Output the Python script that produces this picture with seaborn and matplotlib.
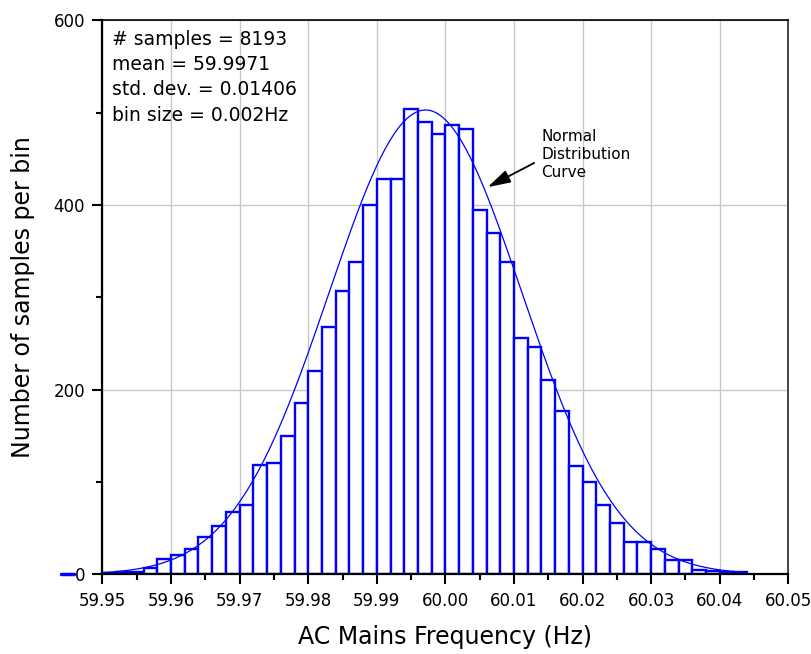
import numpy as np
import matplotlib
matplotlib.use("Agg")
import matplotlib.pyplot as plt
from matplotlib.ticker import MultipleLocator, FormatStrFormatter
import seaborn as sns

# histogram data (bin size 0.002 Hz, first bin starts at 59.95)
bin_start = 59.95
bin_size = 0.002
counts = [1, 2, 2, 7, 17, 21, 27, 40, 52, 67,
          75, 118, 121, 150, 186, 220, 268, 307, 338, 400,
          428, 428, 504, 490, 477, 487, 482, 395, 370, 338,
          256, 246, 211, 177, 117, 100, 75, 56, 35, 35,
          27, 15, 16, 5, 4, 3, 2]

# fitted normal curve parameters
fit_mean = 59.9971
fit_sigma = 0.01406
fit_peak = 503
curve_range = (59.95, 60.044)

stats_text = "# samples = 8193\nmean = 59.9971\nstd. dev. = 0.01406\nbin size = 0.002Hz"
note_text = "Normal\nDistribution\nCurve"

sns.set_style("ticks")
plt.rcParams['font.family'] = ['DejaVu Sans']
plt.rcParams['text.color'] = 'black'
plt.rcParams['axes.labelcolor'] = 'black'
plt.rcParams['xtick.color'] = 'black'
plt.rcParams['ytick.color'] = 'black'

n_bins = len(counts)
bin_end = round(bin_start + n_bins * bin_size, 3)
centers = np.round(bin_start + bin_size * (np.arange(n_bins) + 0.5), 4)

fig = plt.figure(figsize=(8.12, 6.54), dpi=100)
ax = fig.add_axes([0.1262, 0.1219, 0.8446, 0.8468])

sns.histplot(x=centers, weights=counts, bins=n_bins, binrange=(bin_start, bin_end),
             color="white", edgecolor="#0000ff", linewidth=1.7, alpha=1, ax=ax, zorder=2)

xs = np.linspace(curve_range[0], curve_range[1], 400)
ys = fit_peak * np.exp(-0.5 * ((xs - fit_mean) / fit_sigma) ** 2)
sns.lineplot(x=xs, y=ys, color="#0000ff", linewidth=0.9, ax=ax, zorder=3)

ax.set_xlim(59.95, 60.05)
ax.set_ylim(0, 600)
ax.xaxis.set_major_locator(MultipleLocator(0.01))
ax.xaxis.set_minor_locator(MultipleLocator(0.005))
ax.xaxis.set_major_formatter(FormatStrFormatter("%.2f"))
ax.yaxis.set_major_locator(MultipleLocator(200))
ax.yaxis.set_minor_locator(MultipleLocator(100))

ax.set_axisbelow(True)
ax.grid(True, which="major", color="#c8c8c8", linewidth=1.0)
ax.tick_params(which="major", direction="out", length=7, width=1.5, labelsize=12, pad=5.5)
ax.tick_params(which="minor", direction="out", length=4, width=1.5)
ax.tick_params(top=False, right=False)

for side in ["left", "bottom"]:
    ax.spines[side].set_linewidth(1.6)
    ax.spines[side].set_color("black")
ax.spines["top"].set_linewidth(1.2)
ax.spines["top"].set_color("black")
ax.spines["right"].set_linewidth(1.4)
ax.spines["right"].set_color("#444444")

ax.set_xlabel("AC Mains Frequency (Hz)", fontsize=17, labelpad=11)
ax.set_ylabel("Number of samples per bin", fontsize=17, labelpad=13)

ax.text(0.0143, 0.983, stats_text, transform=ax.transAxes, ha="left", va="top",
        fontsize=13.5, linespacing=1.42, zorder=5)

ax.text(60.0140, 482, note_text, ha="left", va="top", fontsize=11, linespacing=1.25, zorder=5)
ax.annotate("", xy=(60.0058, 418), xytext=(60.0133, 447),
            arrowprops=dict(arrowstyle="-|>,head_length=0.7,head_width=0.2",
                            color="black", lw=1.3, mutation_scale=20), zorder=5)

# short blue stub left of the zero label
ax.plot([-0.0605, -0.0416], [0, 0], transform=ax.transAxes, color="#0000ff",
        linewidth=2.5, clip_on=False)

fig.savefig("out.png", dpi=100)
